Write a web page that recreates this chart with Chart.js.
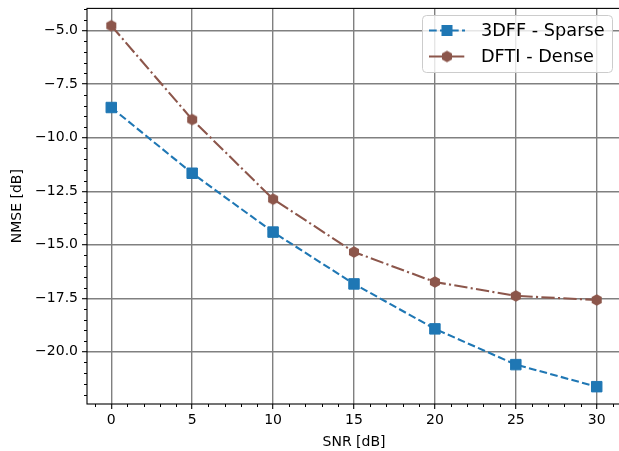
<!DOCTYPE html>
<html>
<head>
<meta charset="utf-8">
<script src="https://cdn.jsdelivr.net/npm/chart.js@4.4.1/dist/chart.umd.min.js"></script>
<style>
  html, body { margin: 0; padding: 0; background: #fff; overflow: hidden; }
  #wrap { width: 619px; height: 451px; overflow: hidden; }
  canvas { display: block; }
</style>
</head>
<body>
<div id="wrap"><canvas id="nmseChart" width="630" height="451"></canvas></div>
<script>
// values
const snrValues = [0, 5, 10, 15, 20, 25, 30];
const sparseNmse = [-8.59, -11.66, -14.41, -16.83, -18.93, -20.6, -21.63];
const denseNmse = [-4.77, -9.15, -12.87, -15.34, -16.74, -17.39, -17.58];
const xTicks = [0, 5, 10, 15, 20, 25, 30];
const yTicks = [-20, -17.5, -15, -12.5, -10, -7.5, -5];

const FONT = "'DejaVu Sans', sans-serif";
const BLUE = "#1f77b4";
const BROWN = "#8c564b";

// hexagon marker (matplotlib "h")
function hexagon(r, color) {
  const c = document.createElement("canvas");
  const s = Math.ceil(r * 2 + 2);
  c.width = s; c.height = s;
  const g = c.getContext("2d");
  g.beginPath();
  for (let i = 0; i < 6; i++) {
    const a = -Math.PI / 2 + i * Math.PI / 3;
    const px = s / 2 + r * Math.cos(a), py = s / 2 + r * Math.sin(a);
    if (i === 0) g.moveTo(px, py); else g.lineTo(px, py);
  }
  g.closePath();
  g.fillStyle = color;
  g.fill();
  return c;
}
const hexMarker = hexagon(5.8, BROWN);

const frame = {
  id: "frame",
  afterDraw(chart) {
    const { ctx, chartArea: a, scales } = chart;
    ctx.save();
    // minor ticks
    ctx.strokeStyle = "#000";
    ctx.lineWidth = 1;
    ctx.beginPath();
    for (let v = -1; v <= 31; v++) {
      if (v % 5 === 0) continue;
      const px = Math.round(scales.x.getPixelForValue(v)) + 0.5;
      ctx.moveTo(px, a.bottom);
      ctx.lineTo(px, a.bottom + 3);
    }
    for (let v = -22; v <= -4; v += 0.5) {
      if (Math.abs(v / 2.5 - Math.round(v / 2.5)) < 1e-6) continue;
      const py = Math.round(scales.y.getPixelForValue(v)) + 0.5;
      ctx.moveTo(a.left, py);
      ctx.lineTo(a.left - 3, py);
    }
    ctx.stroke();
    // spines
    ctx.lineWidth = 1.1;
    ctx.strokeRect(a.left, a.top, a.right - a.left, a.bottom - a.top);

    // legend box
    const bx = 422.5, by = 15.5, bw = 190, bh = 57;
    ctx.beginPath();
    ctx.roundRect(bx, by, bw, bh, 4);
    ctx.fillStyle = "rgba(255,255,255,0.8)";
    ctx.fill();
    ctx.strokeStyle = "#cccccc";
    ctx.lineWidth = 1;
    ctx.stroke();

    const rows = [30.5, 56.5];
    chart.data.datasets.forEach((ds, i) => {
      const y = rows[i];
      ctx.strokeStyle = ds.borderColor;
      ctx.lineWidth = ds.borderWidth;
      ctx.setLineDash(ds.borderDash);
      ctx.beginPath();
      ctx.moveTo(429, y);
      ctx.lineTo(465, y);
      ctx.stroke();
      ctx.setLineDash([]);
      if (ds.pointStyle === "rect") {
        ctx.fillStyle = ds.pointBackgroundColor;
        ctx.fillRect(447 - 5.5, y - 5.5, 11, 11);
      } else {
        ctx.drawImage(ds.pointStyle, 447 - ds.pointStyle.width / 2, y - ds.pointStyle.height / 2);
      }
      ctx.fillStyle = "#000";
      ctx.font = "17.7px " + FONT;
      ctx.textBaseline = "middle";
      ctx.textAlign = "left";
      ctx.fillText(ds.label, 481, y + 1);
    });
    ctx.restore();
  }
};

function fmt(v) {
  return String(v.toFixed(1)).replace("-", "\u2212");
}

new Chart(document.getElementById("nmseChart").getContext("2d"), {
  type: "line",
  data: {
    datasets: [
      {
        label: "3DFF - Sparse",
        data: snrValues.map((x, i) => ({ x: x, y: sparseNmse[i] })),
        borderColor: BLUE,
        borderWidth: 2.1,
        borderDash: [7.7, 3.3],
        pointStyle: "rect",
        pointRadius: 7.4,
        pointBackgroundColor: BLUE,
        pointBorderColor: BLUE,
        pointBorderWidth: 1,
        tension: 0,
      },
      {
        label: "DFTI - Dense",
        data: snrValues.map((x, i) => ({ x: x, y: denseNmse[i] })),
        borderColor: BROWN,
        borderWidth: 2.1,
        borderDash: [13.3, 3.3, 2.1, 3.3],
        pointStyle: hexMarker,
        pointBackgroundColor: BROWN,
        pointBorderColor: BROWN,
        tension: 0,
      },
    ],
  },
  options: {
    responsive: false,
    animation: false,
    events: [],
    layout: { padding: { left: 0, top: 7, right: 9, bottom: 0 } },
    plugins: {
      legend: { display: false },
      tooltip: { enabled: false },
    },
    scales: {
      x: {
        type: "linear",
        min: -1.5,
        max: 31.5,
        afterBuildTicks: (s) => { s.ticks = xTicks.map((v) => ({ value: v })); },
        afterFit: (s) => { s.height = 47; s.paddingLeft = 0; s.paddingRight = 0; },
        grid: {
          color: "#808080",
          lineWidth: 1.4,
          tickColor: "#000",
          tickLength: 5,
          tickWidth: 1.1,
        },
        border: { display: false },
        ticks: {
          color: "#000",
          font: { family: FONT, size: 14 },
          padding: 3,
          maxRotation: 0,
          callback: (v) => String(v),
        },
        title: {
          display: true,
          text: "SNR [dB]",
          color: "#000",
          font: { family: FONT, size: 14 },
          padding: { top: 0, bottom: 0 },
        },
      },
      y: {
        type: "linear",
        min: -22.44,
        max: -3.96,
        afterBuildTicks: (s) => { s.ticks = yTicks.map((v) => ({ value: v })); },
        afterFit: (s) => { s.width = 87; s.paddingTop = 0; s.paddingBottom = 0; },
        grid: {
          color: "#808080",
          lineWidth: 1.4,
          tickColor: "#000",
          tickLength: 5,
          tickWidth: 1.1,
        },
        border: { display: false },
        ticks: {
          color: "#000",
          font: { family: FONT, size: 14 },
          padding: 4,
          callback: (v) => fmt(v),
        },
        title: {
          display: true,
          text: "NMSE [dB]",
          color: "#000",
          font: { family: FONT, size: 14 },
          padding: { top: 9, bottom: 0 },
        },
      },
    },
  },
  plugins: [frame],
});
</script>
</body>
</html>
